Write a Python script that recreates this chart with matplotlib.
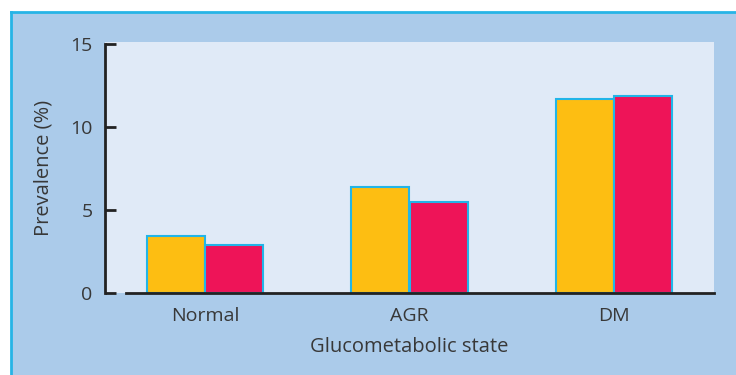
import matplotlib.pyplot as plt
from matplotlib.patches import Rectangle
from matplotlib.lines import Line2D
import numpy as np

# data
states = ["Normal", "AGR", "DM"]
series_a = [3.4, 6.4, 11.7]   # yellow bars
series_b = [2.9, 5.5, 11.85]  # red bars
y_ticks = [0, 5, 10, 15]

plt.rcParams['font.family'] = ['Open Sans', 'DejaVu Sans']
txt = '#383838'

fig = plt.figure(figsize=(7.36, 3.75), dpi=100)
fig.patch.set_facecolor('white')

# outer blue panel with cyan top/left border
W, H = 736.0, 375.0
fig.patches.append(Rectangle((11 / W, 0), 1 - 11 / W, 1 - 12 / H,
                             transform=fig.transFigure, facecolor='#abcbea',
                             edgecolor='none', zorder=-2))
fig.lines.append(Line2D([11 / W, 1], [1 - 12 / H] * 2, transform=fig.transFigure,
                        color='#27b4e6', lw=2, zorder=-1))
fig.lines.append(Line2D([11 / W] * 2, [0, 1 - 12 / H], transform=fig.transFigure,
                        color='#27b4e6', lw=2, zorder=-1))

ax = fig.add_axes([105 / W, 1 - 293 / H, 609 / W, 251 / H])
ax.set_facecolor('#e0eaf7')

x = np.arange(len(states))
w = 0.285
ax.bar(x - w / 2, series_a, w, color='#fdbe12', edgecolor='#22b5e8', lw=1.5, zorder=3)
ax.bar(x + w / 2, series_b, w, color='#ee1458', edgecolor='#22b5e8', lw=1.5, zorder=3)

ax.set_xlim(-0.49, 2.49)
ax.set_ylim(0, 15.1)

for s in ['top', 'right']:
    ax.spines[s].set_visible(False)
ax.spines['left'].set_bounds(0, 15)
ax.spines['bottom'].set_bounds(-0.385, 2.49)
for s in ['left', 'bottom']:
    ax.spines[s].set_color('#222222')
    ax.spines[s].set_linewidth(2)
    ax.spines[s].set_zorder(4)

ax.set_yticks(y_ticks)
ax.tick_params(axis='y', direction='in', length=8, width=2, color='#222222',
               labelsize=14, labelcolor=txt, pad=9)
ax.set_xticks(x)
ax.set_xticklabels(states)
ax.tick_params(axis='x', length=0, labelsize=14, labelcolor=txt, pad=10)

ax.set_xlabel("Glucometabolic state", fontsize=14.5, color=txt, labelpad=9)
ax.set_ylabel("Prevalence (%)", fontsize=14.5, color=txt)
ax.yaxis.set_label_coords(-0.085, 0.5)

fig.savefig("out.png", dpi=100)
